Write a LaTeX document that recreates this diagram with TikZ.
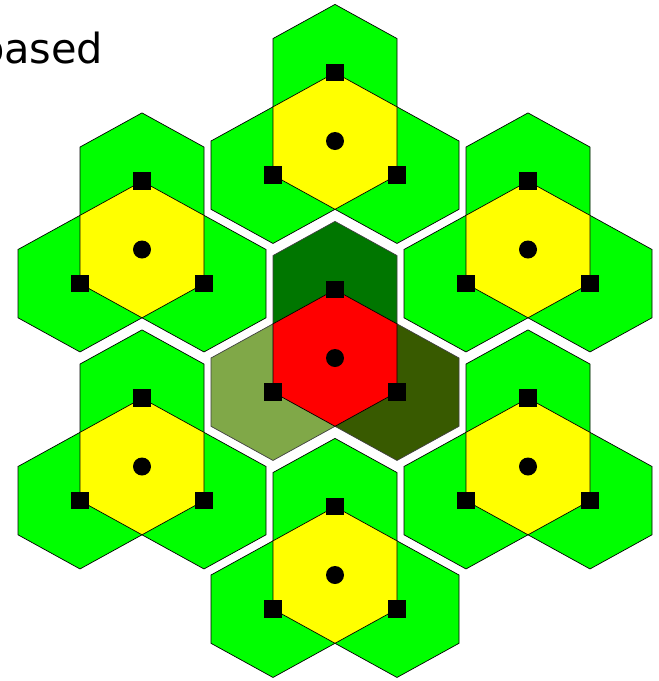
\documentclass[tikz,border=0pt]{standalone}
\usepackage{fontspec}
\setmainfont{DejaVu Sans}

\definecolor{verde}{RGB}{0,255,0}
\definecolor{amarelo}{RGB}{255,255,0}
\definecolor{vermelho}{RGB}{255,0,0}
\definecolor{verdeesc}{RGB}{0,118,0}
\definecolor{oliva}{RGB}{128,168,72}
\definecolor{olivaesc}{RGB}{56,90,0}

\begin{document}
\begin{tikzpicture}[
  x = 1pt, y = -1pt,
  cel/.style = {draw=black, line width=0.7pt},
  antena/.style = {rectangle, fill=black, inner sep=0pt, minimum size=17.5pt},
  base/.style = {circle, fill=black, inner sep=0pt, minimum size=18pt},
  hexa/.pic = {
    \path[pic actions] (0,-\ry) -- (\hx,-\ry/2) -- (\hx,\ry/2) -- (0,\ry)
      -- (-\hx,\ry/2) -- (-\hx,-\ry/2) -- cycle;
  }
]
\def\hx{62}
\def\ry{68.3}
\def\dx{193}
\def\dy{108.5}
\useasboundingbox (0,0) rectangle (659,681);

\node[anchor=base east, inner sep=0pt, font=\fontsize{41.5}{48}\selectfont] (titulo) at (103.5,63.5) {based};

% grupos de fora (tres setores verdes + celula amarela)
\foreach \nome/\cx/\cy in {n/335/{358-2*\dy}, no/{335-\dx}/{358-\dy}, ne/{335+\dx}/{358-\dy},
                           so/{335-\dx}/{358+\dy}, se/{335+\dx}/{358+\dy}, s/335/{358+2*\dy}}{
  \pic[cel, fill=verde] at (\cx,{\cy-\ry}) {hexa};
  \pic[cel, fill=verde] at ({\cx-\hx},{\cy+\ry/2}) {hexa};
  \pic[cel, fill=verde] at ({\cx+\hx},{\cy+\ry/2}) {hexa};
  \pic[cel, fill=amarelo] at (\cx,\cy) {hexa};
  \node[antena] (a1-\nome) at (\cx,{\cy-\ry}) {};
  \node[antena] (a2-\nome) at ({\cx-\hx},{\cy+\ry/2}) {};
  \node[antena] (a3-\nome) at ({\cx+\hx},{\cy+\ry/2}) {};
  \node[base] (b-\nome) at (\cx,\cy) {};
}

% grupo central
\pic[cel, draw=black!75, fill=verdeesc] at (335,{358-\ry}) {hexa};
\pic[cel, draw=black!75, fill=oliva] at ({335-\hx},{358+\ry/2}) {hexa};
\pic[cel, draw=black!75, fill=olivaesc] at ({335+\hx},{358+\ry/2}) {hexa};
\pic[cel, fill=vermelho] at (335,358) {hexa};
\node[antena] (a1-c) at (335,{358-\ry}) {};
\node[antena] (a2-c) at ({335-\hx},{358+\ry/2}) {};
\node[antena] (a3-c) at ({335+\hx},{358+\ry/2}) {};
\node[base] (b-c) at (335,358) {};
\end{tikzpicture}
\end{document}
